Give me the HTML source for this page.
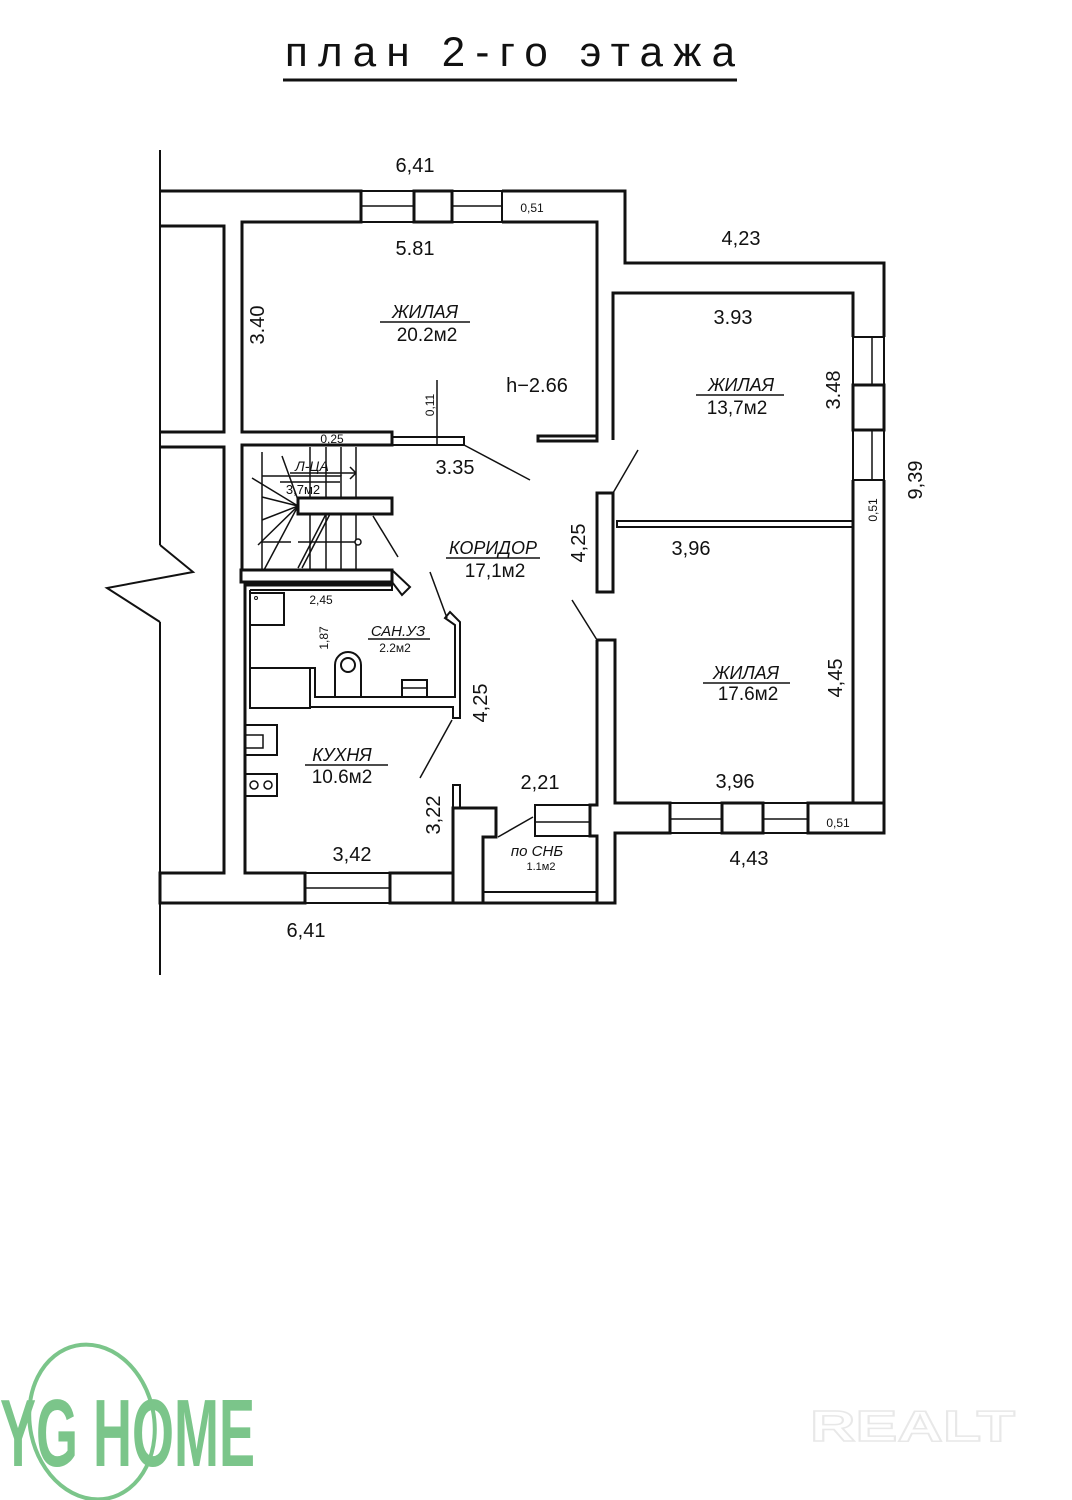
<!DOCTYPE html>
<html><head><meta charset="utf-8"><style>
html,body{margin:0;padding:0;background:#fff}
svg{display:block}
text{font-family:"Liberation Sans","DejaVu Sans",sans-serif;fill:#111}
.it{font-style:italic}
</style></head><body>
<svg width="1072" height="1500" viewBox="0 0 1072 1500" xmlns="http://www.w3.org/2000/svg">
<rect width="1072" height="1500" fill="#fff"/>
<!-- title -->
<text x="510" y="66" font-size="42" text-anchor="middle" textLength="450" lengthAdjust="spacing">план 2-го этажа</text>
<line x1="283" y1="80" x2="737" y2="80" stroke="#111" stroke-width="3"/>

<g fill="none" stroke="#111" stroke-width="3" stroke-linejoin="miter">
<line x1="160" y1="150" x2="160" y2="545" stroke-width="2"/>
<polyline points="160,545 193,572 107,588 160,622" stroke-width="2"/>
<line x1="160" y1="622" x2="160" y2="975" stroke-width="2"/>
<polyline points="160,226 224,226 224,432 160,432"/>
<polyline points="160,903 160,873 224,873 224,447 160,447"/>
<polyline points="160,191 361,191 361,222 242,222 242,432 392,432 392,445 242,445 242,570"/>
<rect x="361" y="191" width="53" height="31" stroke-width="2"/>
<line x1="361" y1="206" x2="414" y2="206" stroke-width="1.5"/>
<rect x="414" y="191" width="38" height="31"/>
<rect x="452" y="191" width="50" height="31" stroke-width="2"/>
<line x1="452" y1="206" x2="502" y2="206" stroke-width="1.5"/>
<polyline points="502,191 625,191 625,263 884,263 884,337"/>
<polyline points="502,222 597,222 597,441 538,441 538,436 597,436"/>
<rect x="392" y="437" width="72" height="8" stroke-width="2"/>
<line x1="437" y1="380" x2="437" y2="445" stroke-width="1.5"/>
<line x1="464" y1="445" x2="530" y2="480" stroke-width="1.5"/>
<polyline points="613,440 613,293 853,293 853,337"/>
<rect x="853" y="337" width="31" height="48" stroke-width="2"/>
<line x1="872" y1="337" x2="872" y2="385" stroke-width="1.5"/>
<rect x="853" y="385" width="31" height="45"/>
<rect x="853" y="430" width="31" height="50" stroke-width="2"/>
<line x1="872" y1="430" x2="872" y2="480" stroke-width="1.5"/>
<polyline points="884,480 884,833 808,833"/>
<polyline points="853,480 853,803 808,803"/>
<rect x="617" y="521" width="236" height="6" stroke-width="2"/>
<rect x="597" y="493" width="16" height="99"/>
<line x1="613" y1="493" x2="638" y2="450" stroke-width="1.5"/>
<rect x="808" y="803" width="76" height="30"/>
<rect x="763" y="803" width="45" height="30" stroke-width="2"/>
<line x1="763" y1="819" x2="808" y2="819" stroke-width="1.5"/>
<rect x="722" y="803" width="41" height="30"/>
<rect x="670" y="803" width="52" height="30" stroke-width="2"/>
<line x1="670" y1="819" x2="722" y2="819" stroke-width="1.5"/>
<polyline points="597,640 597,805 590,805 590,836 597,836 597,903 615,903 615,833 670,833 670,803 615,803 615,640 597,640"/>
<line x1="572" y1="600" x2="597" y2="640" stroke-width="1.5"/>
<rect x="535" y="805" width="55" height="31" stroke-width="2"/>
<line x1="535" y1="822" x2="590" y2="822" stroke-width="1.5"/>
<line x1="498" y1="837" x2="533" y2="817" stroke-width="1.5"/>
<polyline points="453,873 453,808 496,808 496,837 483,837 483,903 597,903"/>
<line x1="483" y1="892" x2="597" y2="892" stroke-width="2"/>
<rect x="453" y="785" width="7" height="23" stroke-width="2"/>
<polyline points="160,873 160,903 305,903 305,873 245,873 245,585 392,585"/>
<rect x="305" y="873" width="85" height="30" stroke-width="2"/>
<line x1="305" y1="888" x2="390" y2="888" stroke-width="1.5"/>
<rect x="390" y="873" width="63" height="30"/>
<polyline points="453,873 453,903 483,903"/>
<line x1="420" y1="778" x2="452" y2="720" stroke-width="1.5"/>
<rect x="241" y="570" width="151" height="12"/>
<polyline points="392,570 410,587 402,595 392,582" stroke-width="2"/>
<rect x="298" y="498" width="94" height="16"/>
<g stroke-width="1.5">
<line x1="262" y1="452" x2="262" y2="570"/>
<polyline points="262,476 341,476 341,498"/>
<polyline points="262,542 291,542"/>
<line x1="310" y1="447" x2="310" y2="498"/>
<line x1="326" y1="447" x2="326" y2="498"/>
<line x1="341" y1="447" x2="341" y2="476"/>
<line x1="356" y1="447" x2="356" y2="498"/>
<line x1="310" y1="514" x2="310" y2="570"/>
<line x1="326" y1="514" x2="326" y2="570"/>
<line x1="341" y1="514" x2="341" y2="570"/>
<line x1="356" y1="514" x2="356" y2="570"/>
<line x1="298" y1="542" x2="356" y2="542"/>
<line x1="262" y1="520" x2="298" y2="506"/>
<line x1="252" y1="478" x2="298" y2="506"/>
<line x1="262" y1="497" x2="298" y2="506"/>
<line x1="258" y1="545" x2="298" y2="506"/>
<line x1="264" y1="570" x2="298" y2="506"/>
<line x1="282" y1="456" x2="298" y2="500"/>
<line x1="298" y1="568" x2="326" y2="514"/>
<line x1="302" y1="568" x2="330" y2="514"/>
<line x1="290" y1="473" x2="356" y2="473"/>
<line x1="356" y1="473" x2="350" y2="467"/>
<line x1="356" y1="473" x2="350" y2="479"/>
<line x1="373" y1="516" x2="398" y2="557"/>
<circle cx="358" cy="542" r="3" fill="#fff"/>
</g>
<polyline points="250,590 392,590 392,582" stroke-width="2"/>
<polyline points="250,590 250,668 315,668 315,697 455,697 455,625 445,618 450,612 460,622 460,718 453,718 453,707 310,707 310,668" stroke-width="2"/>
<rect x="250" y="668" width="60" height="40" stroke-width="2"/>
<rect x="250" y="593" width="34" height="32" stroke-width="2"/>
<circle cx="256" cy="598" r="1.5" stroke-width="1"/>
<path d="M335,697 L335,665 A13,13 0 0 1 361,665 L361,697 Z" stroke-width="2"/>
<circle cx="348" cy="665" r="7" stroke-width="2"/>
<rect x="402" y="680" width="25" height="17" stroke-width="2"/>
<line x1="402" y1="688" x2="427" y2="688" stroke-width="1.5"/>
<line x1="430" y1="572" x2="447" y2="618" stroke-width="1.5"/>
<rect x="245" y="725" width="32" height="30" stroke-width="2"/>
<rect x="245" y="735" width="18" height="13" stroke-width="1.5"/>
<rect x="245" y="774" width="32" height="22" stroke-width="2"/>
<circle cx="254" cy="785" r="4" stroke-width="1.5"/>
<circle cx="268" cy="785" r="4" stroke-width="1.5"/>
</g>

<g font-size="20">
<text x="415" y="172" text-anchor="middle">6,41</text>
<text x="415" y="255" text-anchor="middle">5.81</text>
<text transform="translate(264,325) rotate(-90)" text-anchor="middle">3.40</text>
<text x="537" y="392" text-anchor="middle">h−2.66</text>
<text x="741" y="245" text-anchor="middle">4,23</text>
<text x="733" y="324" text-anchor="middle">3.93</text>
<text transform="translate(840,390) rotate(-90)" text-anchor="middle">3.48</text>
<text transform="translate(922,480) rotate(-90)" text-anchor="middle">9,39</text>
<text x="691" y="555" text-anchor="middle">3,96</text>
<text transform="translate(585,543) rotate(-90)" text-anchor="middle">4,25</text>
<text x="455" y="474" text-anchor="middle">3.35</text>
<text transform="translate(487,703) rotate(-90)" text-anchor="middle">4,25</text>
<text x="540" y="789" text-anchor="middle">2,21</text>
<text transform="translate(440,815) rotate(-90)" text-anchor="middle">3,22</text>
<text x="352" y="861" text-anchor="middle">3,42</text>
<text transform="translate(842,678) rotate(-90)" text-anchor="middle">4,45</text>
<text x="735" y="788" text-anchor="middle">3,96</text>
<text x="749" y="865" text-anchor="middle">4,43</text>
<text x="306" y="937" text-anchor="middle">6,41</text>
</g>
<g font-size="12">
<text x="532" y="212" text-anchor="middle">0,51</text>
<text x="838" y="827" text-anchor="middle">0,51</text>
<text transform="translate(877,510) rotate(-90)" text-anchor="middle">0,51</text>
<text transform="translate(434,405) rotate(-90)" text-anchor="middle">0,11</text>
<text x="332" y="443" text-anchor="middle">0,25</text>
<text x="321" y="604" text-anchor="middle">2,45</text>
<text transform="translate(328,638) rotate(-90)" text-anchor="middle">1,87</text>
</g>
<g class="it" font-size="18">
<text x="425" y="318" text-anchor="middle">ЖИЛАЯ</text>
<line x1="380" y1="322" x2="470" y2="322" stroke="#111" stroke-width="1.5"/>
<text x="427" y="341" text-anchor="middle" font-style="normal" font-size="19">20.2м2</text>
<text x="741" y="391" text-anchor="middle">ЖИЛАЯ</text>
<line x1="696" y1="395" x2="784" y2="395" stroke="#111" stroke-width="1.5"/>
<text x="737" y="414" text-anchor="middle" font-style="normal" font-size="19">13,7м2</text>
<text x="746" y="679" text-anchor="middle">ЖИЛАЯ</text>
<line x1="703" y1="683" x2="790" y2="683" stroke="#111" stroke-width="1.5"/>
<text x="748" y="700" text-anchor="middle" font-style="normal" font-size="19">17.6м2</text>
<text x="493" y="554" text-anchor="middle">КОРИДОР</text>
<line x1="446" y1="558" x2="540" y2="558" stroke="#111" stroke-width="1.5"/>
<text x="495" y="577" text-anchor="middle" font-style="normal" font-size="19">17,1м2</text>
<text x="342" y="761" text-anchor="middle">КУХНЯ</text>
<line x1="305" y1="765" x2="388" y2="765" stroke="#111" stroke-width="1.5"/>
<text x="342" y="783" text-anchor="middle" font-style="normal" font-size="19">10.6м2</text>
<text x="398" y="636" text-anchor="middle" font-size="15">САН.УЗ</text>
<line x1="368" y1="639" x2="430" y2="639" stroke="#111" stroke-width="1.5"/>
<text x="395" y="652" text-anchor="middle" font-style="normal" font-size="12">2.2м2</text>
<text x="312" y="471" text-anchor="middle" font-size="14">Л-ЦА</text>
<line x1="280" y1="482" x2="340" y2="482" stroke="#111" stroke-width="1.5"/>
<text x="303" y="494" text-anchor="middle" font-style="normal" font-size="13">3,7м2</text>
<text x="537" y="856" text-anchor="middle" font-size="15">по СНБ</text>
<text x="541" y="870" text-anchor="middle" font-style="normal" font-size="11">1.1м2</text>
</g>

<g>
<ellipse cx="92" cy="1422" rx="62" ry="78" fill="none" stroke="#7bc58a" stroke-width="4" transform="rotate(-12 92 1422)"/>
<text x="0" y="1466" font-size="96" font-weight="bold" style="fill:#7bc58a" transform="scale(0.6,1)" textLength="425" lengthAdjust="spacingAndGlyphs">YG HOME</text>
<text x="810" y="1441" font-size="44" font-weight="bold" stroke="#e8e8e8" stroke-width="1.5" textLength="205" lengthAdjust="spacingAndGlyphs" style="fill:none">REALT</text>
</g>
</svg>
</body></html>
